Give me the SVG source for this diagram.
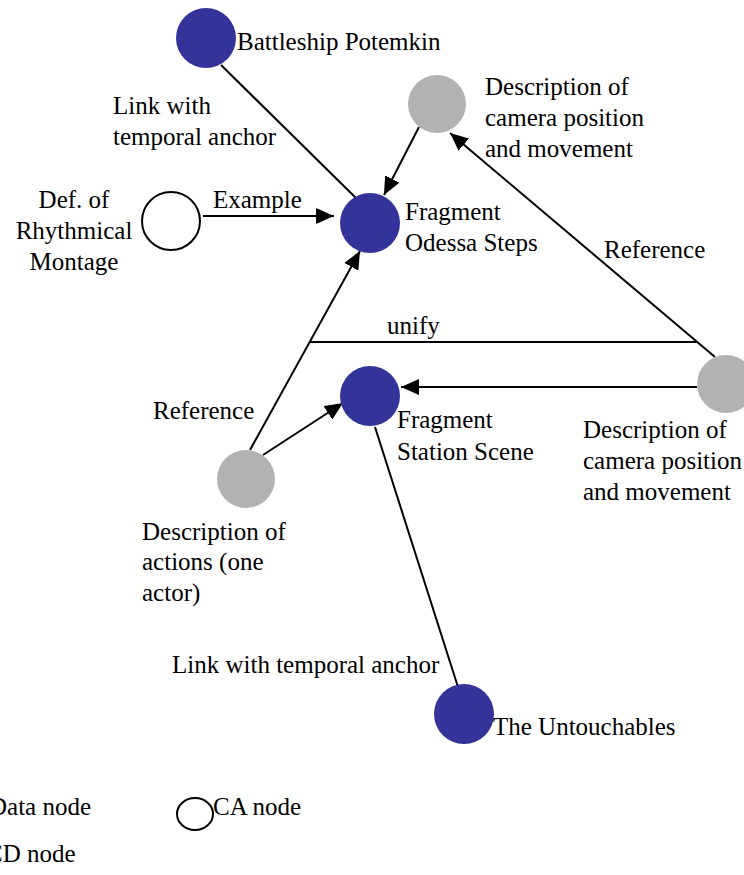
<svg xmlns="http://www.w3.org/2000/svg" width="744" height="875" viewBox="0 0 744 875">
<style>
text { font-family: "Liberation Serif", "Times New Roman", serif; font-size: 25px; fill: #000; }
.data { fill: #333399; }
.cd { fill: #b2b2b2; }
.ca { fill: #fff; stroke: #000; stroke-width: 2; }
.edge { stroke: #000; stroke-width: 2; fill: none; }
.arr { marker-end: url(#ah); }
.mid { text-anchor: middle; }
</style>
<defs>
<marker id="ah" markerUnits="userSpaceOnUse" markerWidth="18" markerHeight="16" refX="18" refY="8" orient="auto">
<path d="M0,0 L18,8 L0,16 z" fill="#000"/>
</marker>
</defs>
<rect width="744" height="875" fill="#fff"/>
<g id="connectors">
<line class="edge" x1="221" y1="65" x2="358" y2="200"/>
<line class="edge arr" x1="419" y1="127" x2="384" y2="195"/>
<line class="edge arr" x1="203" y1="216" x2="334" y2="216"/>
<line class="edge arr" x1="715" y1="357" x2="450" y2="133"/>
<line class="edge arr" x1="250" y1="450" x2="360" y2="251"/>
<line class="edge" x1="310" y1="342" x2="697" y2="342"/>
<line class="edge arr" x1="697" y1="387" x2="401" y2="387"/>
<line class="edge arr" x1="263" y1="455" x2="343" y2="403"/>
<line class="edge" x1="375" y1="427" x2="458" y2="687"/>
<text x="113" y="114">Link with</text>
<text x="113" y="145">temporal anchor</text>
<text x="213" y="208">Example</text>
<text x="604" y="258">Reference</text>
<text x="387" y="334">unify</text>
<text x="153" y="419">Reference</text>
<text x="172" y="673">Link with temporal anchor</text>
</g>
<g id="potemkin">
<circle class="data" cx="206" cy="38" r="30"/>
<text x="237" y="50">Battleship Potemkin</text>
</g>
<g id="camera-top">
<circle class="cd" cx="437" cy="104" r="29"/>
<text x="485" y="95">Description of</text>
<text x="485" y="126">camera position</text>
<text x="485" y="157">and movement</text>
</g>
<g id="odessa">
<circle class="data" cx="370" cy="223" r="30"/>
<text x="405" y="220">Fragment</text>
<text x="405" y="251">Odessa Steps</text>
</g>
<g id="def-rhythmical">
<circle class="ca" cx="171" cy="221" r="29"/>
<text class="mid" x="74" y="208">Def. of</text>
<text class="mid" x="74" y="239">Rhythmical</text>
<text class="mid" x="74" y="270">Montage</text>
</g>
<g id="station">
<circle class="data" cx="370" cy="396" r="30"/>
<text x="397" y="428">Fragment</text>
<text x="397" y="460">Station Scene</text>
</g>
<g id="camera-right">
<circle class="cd" cx="726" cy="384" r="29"/>
<text x="583" y="438">Description of</text>
<text x="583" y="469">camera position</text>
<text x="583" y="500">and movement</text>
</g>
<g id="actions">
<circle class="cd" cx="246" cy="479" r="29"/>
<text x="142" y="540">Description of</text>
<text x="142" y="570">actions (one</text>
<text x="142" y="601">actor)</text>
</g>
<g id="untouchables">
<circle class="data" cx="464" cy="714" r="30"/>
<text x="493" y="735">The Untouchables</text>
</g>
<g id="legend">
<text x="-11" y="815">Data node</text>
<ellipse class="ca" cx="195" cy="814" rx="18" ry="16"/>
<text x="213" y="815">CA node</text>
<text x="-14" y="862">CD node</text>
</g>
</svg>
